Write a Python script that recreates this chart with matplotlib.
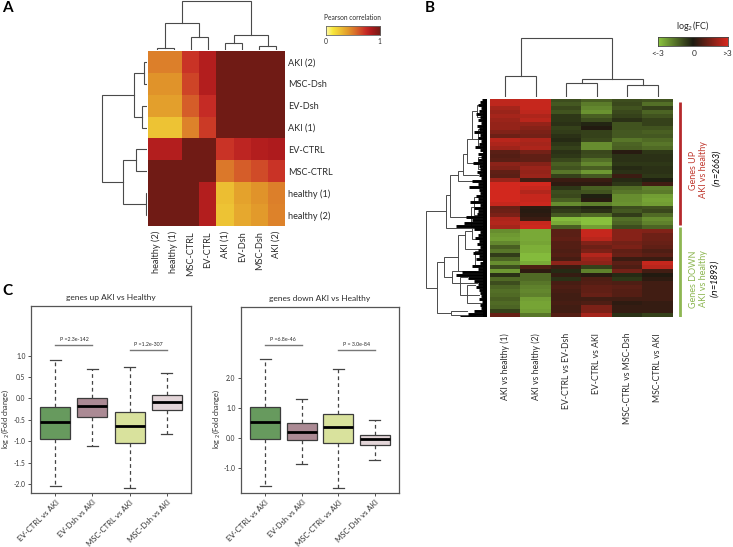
import numpy as np
import matplotlib
matplotlib.use("Agg")
import matplotlib.pyplot as plt
from matplotlib.colors import LinearSegmentedColormap

plt.rcParams['font.family'] = ['Lato', 'DejaVu Sans']
W, H = 733, 547
TXT = '#2b2b2b'
LINK = '#4a4a4a'

# Panel A
labels_rows = ['AKI (2)', 'MSC-Dsh', 'EV-Dsh', 'AKI (1)', 'EV-CTRL', 'MSC-CTRL', 'healthy (1)', 'healthy (2)']
labels_cols = ['healthy (2)', 'healthy (1)', 'MSC-CTRL', 'EV-CTRL', 'AKI (1)', 'EV-Dsh', 'MSC-Dsh', 'AKI (2)']
corr = [[.48, .48, .70, .80, 1, 1, 1, 1],
        [.42, .42, .65, .80, 1, 1, 1, 1],
        [.38, .38, .58, .73, 1, 1, 1, 1],
        [.25, .25, .47, .68, 1, 1, 1, 1],
        [.80, .80, 1, 1, .70, .76, .80, .82],
        [1, 1, 1, 1, .50, .58, .63, .70],
        [1, 1, 1, .80, .27, .37, .42, .48],
        [1, 1, 1, .80, .25, .35, .40, .47]]
# (pos1, pos2, height, base1, base2)
a_top = [(.5, 1.5, 2, 0, 0), (2.5, 3.5, 13, 0, 0), (1, 3, 27, 2, 13), (4.5, 5.5, 7, 0, 0),
         (6.5, 7.5, 4, 0, 0), (5, 7, 15, 7, 4), (2, 6, 49, 27, 15)]
a_left = [(.5, 1.5, 3, 0, 0), (2.5, 3.5, 5, 0, 0), (1, 3, 13, 3, 5), (4.5, 5.5, 11, 0, 0),
          (6.5, 7.5, 1, 0, 0), (5, 7, 24, 11, 1), (2, 6, 45, 13, 24)]

# Panel B
b_cols = ['AKI vs healthy (1)', 'AKI vs healthy (2)', 'EV-CTRL vs EV-Dsh', 'EV-CTRL vs AKI',
          'MSC-CTRL vs MSC-Dsh', 'MSC-CTRL vs AKI']
fc = [[2.6, 2.7, -.9, -1.2, -.9, -1.0], [2.6, 2.7, -1.1, -1.7, -.8, -1.5], [2.2, 2.7, -.8, -1.9, -1.0, -.7],
      [2.0, 2.6, -1.0, -2.1, -.8, -1.3], [2.2, 2.3, -.5, -1.2, -.7, -1.0], [2.0, 2.5, -.5, -.9, -.4, -.7],
      [1.9, 1.9, -.4, -.2, -1.0, -.7], [1.9, 1.7, -.7, .1, -1.0, -1.0], [1.6, 1.5, -.6, -.7, -1.1, -1.2],
      [1.3, 1.4, -.4, -.7, -1.1, -1.1], [2.5, 2.3, -.3, -.8, -1.6, -1.4], [2.3, 2.2, -.5, -2.0, -1.3, -1.6],
      [2.1, 2.3, -.7, -2.0, -1.2, -1.4], [1.0, 1.4, -.4, -.8, .2, -.5], [.9, 1.1, -.5, -.9, -.4, -.4],
      [1.0, 1.1, -.8, -1.5, -.4, -.4], [1.8, 1.7, -1.2, -1.9, -.5, -.5], [1.6, 2.0, -1.0, -1.2, -.3, -.4],
      [1.1, 1.9, -1.6, -2.2, -.4, -.4], [1.0, 2.0, -.7, -1.1, .5, -.5], [2.0, .6, .5, .5, -.3, -.1],
      [2.9, 2.9, .3, .3, -.5, .6], [2.9, 2.7, -.5, -1.2, -1.4, -1.8], [2.9, 2.4, -.9, -1.0, -1.6, -1.7],
      [2.9, 2.7, -.8, -.1, -2.0, -2.3], [2.9, 2.7, -1.2, .2, -2.0, -2.4], [2.7, 2.8, -2.0, -1.8, -2.1, -2.3],
      [1.2, .3, -.4, -.2, -.9, -1.0], [1.3, .2, -.6, -.4, -1.1, -.8], [1.5, .3, -1.1, -1.4, -.6, -1.4],
      [2.3, .5, -2.8, -2.9, -1.5, -2.0], [2.4, 2.7, -2.5, -2.9, -1.3, -1.8], [2.2, 2.8, -1.2, -2.3, -.9, -1.3],
      [-2.0, -2.5, 1.0, 2.7, 1.7, 1.6], [-2.2, -2.5, 1.0, 2.7, 1.7, 1.3], [-2.3, -2.5, 1.1, 2.5, 1.7, 1.3],
      [-1.9, -2.4, .9, 1.6, 1.4, 1.2], [-1.2, -2.6, .9, 1.3, 1.5, 1.1], [-1.6, -2.6, .8, 1.5, 1.1, .8],
      [-.6, -2.8, .9, 2.4, 1.2, 1.0], [-1.3, -2.8, .7, 2.0, .5, .5], [-2.0, -2.5, 1.8, 1.8, 1.0, 2.7],
      [-.9, .8, .5, -.7, .8, 2.5], [-2.2, .3, -.3, -1.8, 1.4, .6], [-.4, -1.4, .4, .2, -.3, .1],
      [-1.4, -1.4, -.4, .8, -.5, .3], [-.9, -1.6, .7, .9, .8, .6], [-1.3, -1.8, .8, 1.1, 1.0, .6],
      [-1.5, -1.9, .7, 1.1, .9, .6], [-1.4, -1.8, .6, 1.2, .9, .6], [-1.2, -2.3, .6, .6, .6, .6],
      [-1.4, -2.4, .7, .8, .3, .4], [-1.3, -2.4, .6, 1.5, .4, .4], [-.7, -2.3, .6, 1.5, .4, .4],
      [1.2, -1.6, .9, 2.2, -.4, -.7]]
b_top = [(.5, 1.5, 21, 0, 0), (2.5, 3.5, 14, 0, 0), (4.5, 5.5, 12, 0, 0), (3, 5, 18, 14, 12), (1, 4, 59, 21, 18)]
# (y1, y2, height, base1, base2), y in px below the top of the heatmap
b_left = [(112, 189, 61, 41, 50), (96, 129, 41, 37, 5), (76, 118, 37, 29, 16), (72, 82, 29, 24, 8),
          (55, 76, 24, 20, 9), (40, 64, 20, 15, 7), (12, 40, 15, 10, 9), (6, 18, 10, 6, 5), (30, 48, 9, 5, 4),
          (58, 70, 9, 6, 4), (108, 128, 16, 13, 6), (98, 116, 13, 8, 5), (163, 214, 50, 43, 36), (158, 178, 43, 29, 35),
          (136, 172, 29, 22, 12), (132, 150, 22, 15, 8), (128, 140, 15, 9, 5), (152, 166, 12, 8, 5), (172, 184, 35, 27, 10),
          (178, 196, 27, 20, 8), (186, 204, 20, 12, 5), (212, 216, 36, 20, 12)]
b_comb = [5, 7, 9, 6, 8, 11, 7, 9, 6, 10, 8, 13, 7, 9, 6, 8, 12, 7, 9, 6, 9, 14, 8, 7, 10, 8, 6, 15, 9, 18, 8, 7, 11, 9, 17,
          7, 13, 9, 10, 21, 15, 23, 31, 13, 7, 9, 12, 8, 10, 7, 9, 14, 8, 11, 7, 15, 9, 25, 31, 19, 13, 9, 11, 8, 7, 6, 8, 5, 7,
          6, 13, 19, 27]

# Panel C
box_names = ['EV-CTRL vs AKI', 'EV-Dsh vs AKI', 'MSC-CTRL vs AKI', 'MSC-Dsh vs AKI']
box_colors = ['#679a5e', '#ab8a94', '#d9e29d', '#e3d5d8']
up_med = [-.56, -.18, -.65, -.09]
up_q1 = [-.95, -.44, -1.03, -.28]
up_q3 = [-.21, .02, -.32, .07]
up_lo = [-2.05, -1.11, -2.09, -.82]
up_hi = [.89, .68, .74, .60]
down_med = [.55, .20, .38, -.05]
down_q1 = [-.03, -.06, -.18, -.23]
down_q3 = [1.04, .50, .81, .10]
down_lo = [-1.62, -.87, -1.66, -.73]
down_hi = [2.64, 1.30, 2.30, .60]


def px_axes(x0, y0, x1, y1):
    return fig.add_axes([x0 / W, 1 - y1 / H, (x1 - x0) / W, (y1 - y0) / H])


def bare_axes(x0, y0, x1, y1):
    ax = px_axes(x0, y0, x1, y1)
    ax.axis('off')
    return ax


def fig_text(x, y, s, **kw):
    kw.setdefault('color', TXT)
    kw.setdefault('fontsize', 5.6)
    kw.setdefault('va', 'center')
    fig.text(x / W, 1 - y / H, s, **kw)


def links_top(ax, links, lw=.8):
    for p1, p2, h, b1, b2 in links:
        ax.plot([p1, p1, p2, p2], [b1, h, h, b2], color=LINK, lw=lw, solid_joinstyle='miter')


def links_left(ax, links, lw=.8):
    for p1, p2, h, b1, b2 in links:
        ax.plot([b1, h, h, b2], [p1, p1, p2, p2], color=LINK, lw=lw, solid_joinstyle='miter')


fig = plt.figure(figsize=(W / 100, H / 100), dpi=100)

# A: heatmap
corr_cmap = LinearSegmentedColormap.from_list('corr', [(0, '#fff9b0'), (.12, '#f8e83c'), (.4, '#e29a2b'),
                                                       (.55, '#d8682a'), (.72, '#c82d26'), (.82, '#ae1b1d'), (1, '#701b15')])
ax = px_axes(148, 51, 285, 226)
ax.imshow(corr, cmap=corr_cmap, vmin=0, vmax=1, aspect='auto', interpolation='nearest')
ax.axis('off')
for i, s in enumerate(labels_rows):
    fig_text(288, 51 + (i + .5) * 175 / 8 + 1, s, fontsize=6.6)
for i, s in enumerate(labels_cols):
    fig_text(148 + (i + .5) * 137 / 8, 231, s, rotation=90, ha='center', va='top', fontsize=6.6)

ax = bare_axes(148, 0, 285, 50)
links_top(ax, a_top)
ax.set_xlim(0, 8)
ax.set_ylim(0, 50)

ax = bare_axes(100, 51, 147, 226)
links_left(ax, a_left)
ax.set_xlim(47, 0)
ax.set_ylim(8, 0)

# A: colorbar
ax = px_axes(326, 26, 380, 35)
ax.imshow(np.linspace(0, 1, 256)[None, :], cmap=corr_cmap, aspect='auto')
ax.set_xticks([])
ax.set_yticks([])
for sp in ax.spines.values():
    sp.set_color('#666666')
    sp.set_linewidth(.6)
fig_text(352, 18, 'Pearson correlation', ha='center', fontsize=4.8)
fig_text(326, 41, '0', ha='center', fontsize=4.8)
fig_text(379, 41, '1', ha='center', fontsize=4.8)

# B: heatmap
fc_cmap = LinearSegmentedColormap.from_list('fc', ['#8cc63f', '#1c1a10', '#d8291f'])
ax = px_axes(490, 99, 673, 317)
ax.imshow(fc, cmap=fc_cmap, vmin=-3, vmax=3, aspect='auto', interpolation='nearest')
ax.axis('off')
for i, s in enumerate(b_cols):
    fig_text(490 + (i + .5) * 183 / 6, 333, s, rotation=90, ha='center', va='top', fontsize=6.2)

ax = bare_axes(490, 30, 673, 97)
links_top(ax, b_top)
ax.set_xlim(0, 6)
ax.set_ylim(0, 67)

ax = bare_axes(422, 99, 487, 317)
comb_y = np.arange(len(b_comb)) * 218 / (len(b_comb) - 1)
links_left(ax, b_left, lw=.7)
ax.hlines(comb_y, 0, b_comb, color='black', lw=2.1)
ax.vlines(2, 0, 218, color='black', lw=3.5)
ax.set_xlim(65, 0)
ax.set_ylim(218, 0)

# B: colorbar
ax = px_axes(658, 37, 728, 46)
ax.imshow(np.linspace(-3, 3, 256)[None, :], cmap=fc_cmap, aspect='auto')
ax.set_xticks([])
ax.set_yticks([])
for sp in ax.spines.values():
    sp.set_color('#444444')
    sp.set_linewidth(.6)
fig_text(693, 26, 'log$_2$(FC)', ha='center', fontsize=6.5)
fig_text(658, 54, '<-3', ha='center', fontsize=6)
fig_text(694, 54, '0', ha='center', fontsize=6)
fig_text(727, 54, '>3', ha='center', fontsize=6)

# B: side bars
ax = bare_axes(676, 99, 684, 317)
ax.vlines(.5, 3, 126, color='#b5292c', lw=2)
ax.vlines(.5, 128, 218, color='#8db652', lw=2)
ax.set_xlim(0, 1)
ax.set_ylim(218, 0)
fig_text(694, 170, 'Genes UP', rotation=90, ha='center', color='#c0392f', fontsize=6.5)
fig_text(703, 170, 'AKI vs healthy', rotation=90, ha='center', color='#c0392f', fontsize=6.5)
fig_text(717, 168, '($n$=2663)', rotation=90, ha='center', color='black', fontsize=6.5, style='italic')
fig_text(694, 279, 'Genes DOWN', rotation=90, ha='center', color='#8db652', fontsize=6.5)
fig_text(703, 279, 'AKI vs healthy', rotation=90, ha='center', color='#8db652', fontsize=6.5)
fig_text(715, 279, '($n$=1893)', rotation=90, ha='center', color='black', fontsize=6.5, style='italic')


# C: boxplots
def box_panel(rect, med, q1, q3, lo, hi, ylim, ticks, ticklabels, title, pvals, pval_y, ylabel_x):
    ax = px_axes(*rect)
    stats = [dict(med=med[i], q1=q1[i], q3=q3[i], whislo=lo[i], whishi=hi[i], fliers=[]) for i in range(4)]
    parts = ax.bxp(stats, positions=[1, 2, 3, 4], widths=.81, patch_artist=True, showfliers=False,
                   boxprops=dict(edgecolor='#3c3c3c', linewidth=.9),
                   medianprops=dict(color='black', linewidth=2, solid_capstyle='butt'),
                   whiskerprops=dict(color='#444444', linewidth=.9, linestyle=(0, (3, 2.5))),
                   capprops=dict(color='#444444', linewidth=.9), capwidths=.3)
    for b, c in zip(parts['boxes'], box_colors):
        b.set_facecolor(c)
    ax.set_xlim(.344, 4.656)
    ax.set_ylim(*ylim)
    ax.set_yticks(ticks)
    ax.set_yticklabels(ticklabels)
    ax.set_xticks([1, 2, 3, 4])
    ax.set_xticklabels(box_names, rotation=45, ha='right', rotation_mode='anchor')
    ax.tick_params(axis='both', labelsize=5.6, length=2, width=.6, pad=2, colors='#333333')
    ax.tick_params(axis='y', labelsize=4.8)
    for sp in ax.spines.values():
        sp.set_color('#555555')
        sp.set_linewidth(.9)
    ax.set_title(title, fontsize=6, color=TXT, pad=4)
    for (x1, x2), y, s in zip([(1, 2), (3, 4)], pval_y, pvals):
        ax.plot([x1, x2], [y, y], color='#777777', lw=1)
        ax.annotate(s, ((x1 + x2) / 2, y), xytext=(0, 2), textcoords='offset points', ha='center',
                    va='bottom', fontsize=3.8, color=TXT)
    fig_text(ylabel_x, 419, 'log $_2$(Fold change)', rotation=90, ha='center', fontsize=5.3)


box_panel((31, 306, 191, 493), up_med, up_q1, up_q3, up_lo, up_hi, (-2.21, 2.16),
          [-2, -1.5, -1, -.5, 0, .5, 1], ['-2.0', '-1.5', '-1.0', '-0.5', '0.0', '0.5', '1.0'],
          'genes up AKI vs Healthy', ['P =2.3e-142', 'P =1.2e-307'], [1.25, 1.14], 5)
box_panel((241, 307, 399, 493), down_med, down_q1, down_q3, down_lo, down_hi, (-1.84, 4.38),
          [-1, 0, 1, 2], ['-1.0', '0.0', '1.0', '2.0'],
          'genes down AKI vs Healthy', ['P =6.8e-46', 'P = 3.0e-84'], [3.10, 2.94], 216)

# panel letters
fig_text(2, 8, 'A', fontweight='bold', fontsize=11, color='black')
fig_text(425, 8, 'B', fontweight='bold', fontsize=11, color='black')
fig_text(2, 291, 'C', fontweight='bold', fontsize=11, color='black')

fig.savefig('out.png', dpi=100)
